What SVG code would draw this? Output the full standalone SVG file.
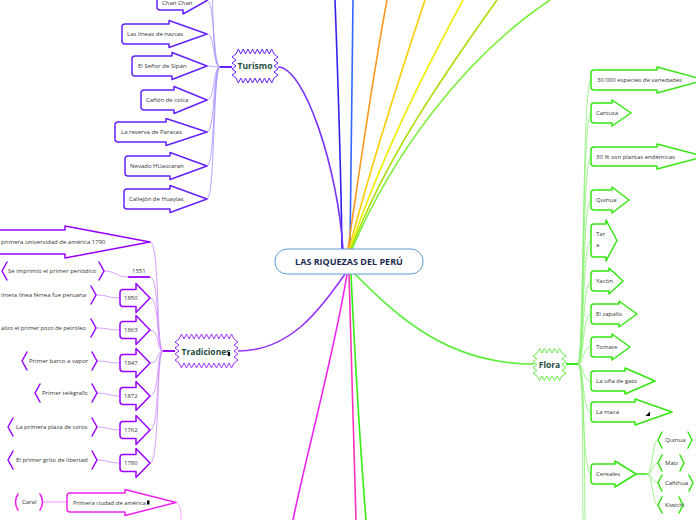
<svg xmlns="http://www.w3.org/2000/svg" width="696" height="520" viewBox="0 0 696 520">
<style>
.t{font-family:"Open Sans","Liberation Sans",sans-serif;font-size:6px;fill:#333}
.b{font-family:"Open Sans","Liberation Sans",sans-serif;font-size:8.5px;font-weight:bold;fill:#1e4d40}
.ttl{font-family:"Open Sans","Liberation Sans",sans-serif;font-size:9px;font-weight:bold;fill:#1a2a50}
.atu{fill:#fff;stroke:#6622ff;stroke-width:1.5;stroke-linejoin:round}
.atr{fill:#fff;stroke:#9900ff;stroke-width:1.5;stroke-linejoin:round}
.afl{fill:#fff;stroke:#33e611;stroke-width:1.5;stroke-linejoin:round}
.amg{fill:#fff;stroke:#ee22ee;stroke-width:1.5;stroke-linejoin:round}
.btr{fill:none;stroke:#9900ff;stroke-width:1.5;stroke-linejoin:round;stroke-linecap:round}
.bfl{fill:none;stroke:#33e611;stroke-width:1.5;stroke-linejoin:round;stroke-linecap:round}
.bmg{fill:none;stroke:#ee22ee;stroke-width:1.5;stroke-linecap:round}
.ctu{fill:none;stroke:#a58cff;stroke-width:0.8}
.ctr{fill:none;stroke:#cc88ff;stroke-width:0.8}
.cfl{fill:none;stroke:#88f070;stroke-width:0.8}
.main{fill:none;stroke-width:1.6}
</style>
<g id="connectors">
<path class="main" stroke="#3322ee" d="M342,249 C341,180 338,80 335,0"/>
<path class="main" stroke="#3366ff" d="M350,249 C351,150 353,60 353,0"/>
<path class="main" stroke="#ff9922" d="M348,249 C358,180 372,80 387,0"/>
<path class="main" stroke="#ffcc00" d="M349,249 C370,170 395,90 425,0"/>
<path class="main" stroke="#eeee00" d="M350,249 C380,160 420,80 463,0"/>
<path class="main" stroke="#aadd00" d="M351,249 C385,160 440,80 497,0"/>
<path class="main" stroke="#77ee33" d="M352,249 C390,160 460,60 550,0"/>
<path class="main" stroke="#7733ff" d="M343,249 C338,170 305,67 278,67"/>
<path class="main" stroke="#9933ff" d="M345,274 C320,310 290,351 238,351"/>
<path class="main" stroke="#ee22ee" d="M347,274 C335,350 305,460 293,520"/>
<path class="main" stroke="#ff33bb" d="M349,274 C352,380 355,470 356,520"/>
<path class="main" stroke="#33ee11" d="M351,274 C356,380 362,470 366,520"/>
<path class="main" stroke="#55ee33" d="M353,272 C400,320 450,364 534,364"/>
<path d="M220,67 H232" stroke="#6622ff" stroke-width="2"/>
<path class="ctu" d="M220,67 C213,67 213,20 212,-30"/>
<path class="ctu" d="M220,67 C213,67 215,0.5 207,0.5"/>
<path class="ctu" d="M220,67 C213,67 215,34 207,34"/>
<path class="ctu" d="M220,67 C213,67 215,66 207,66"/>
<path class="ctu" d="M220,67 C213,67 215,100 207,100"/>
<path class="ctu" d="M220,67 C213,67 215,132 207,132"/>
<path class="ctu" d="M220,67 C213,67 215,166 207,166"/>
<path class="ctu" d="M220,67 C213,67 215,199 207,199"/>
<path d="M163,351 H175" stroke="#9900ff" stroke-width="2"/>
<path class="ctr" d="M163,351 C156,351 160,242 150,242"/>
<path class="ctr" d="M163,351 C156,351 160,277 150,277"/>
<path class="ctr" d="M163,351 C156,351 160,298 150,298"/>
<path class="ctr" d="M163,351 C156,351 160,330 150,330"/>
<path class="ctr" d="M163,351 C156,351 160,363 150,363"/>
<path class="ctr" d="M163,351 C156,351 160,396 150,396"/>
<path class="ctr" d="M163,351 C156,351 160,430 150,430"/>
<path class="ctr" d="M163,351 C156,351 160,463 150,463"/>
<path d="M128,277 H150" stroke="#9900ff" stroke-width="1.8"/>
<path class="ctr" d="M104,271 C116,271 116,277 128,277"/>
<path class="ctr" d="M96,295 C108,295 108,298 120,298"/>
<path class="ctr" d="M96,328 C108,328 108,330 120,330"/>
<path class="ctr" d="M97,361 C108,361 108,363 120,363"/>
<path class="ctr" d="M97,393 C108,393 108,396 120,396"/>
<path class="ctr" d="M97,427 C108,427 108,430 120,430"/>
<path class="ctr" d="M97,460 C108,460 108,463 120,463"/>
<path d="M43,502 H67" stroke="#ff77ff" stroke-width="0.8"/>
<path d="M176,502 C181,506 181,512 181,520" fill="none" stroke="#ff88ff" stroke-width="0.8"/>
<path d="M566,364 H578" stroke="#33e611" stroke-width="2"/>
<path class="cfl" d="M578,364 C584,364 582,80 591,80"/>
<path class="cfl" d="M578,364 C584,364 582,113 591,113"/>
<path class="cfl" d="M578,364 C584,364 582,156.5 591,156.5"/>
<path class="cfl" d="M578,364 C584,364 582,200 591,200"/>
<path class="cfl" d="M578,364 C584,364 582,240.5 591,240.5"/>
<path class="cfl" d="M578,364 C584,364 582,281 591,281"/>
<path class="cfl" d="M578,364 C584,364 582,314 591,314"/>
<path class="cfl" d="M578,364 C584,364 582,347 591,347"/>
<path class="cfl" d="M578,364 C584,364 582,381 591,381"/>
<path class="cfl" d="M578,364 C584,364 582,412 591,412"/>
<path class="cfl" d="M578,364 C584,364 582,474 591,474"/>
<path class="cfl" d="M578,364 C584,364 582,450 583,520"/>
<path class="cfl" d="M578,364 C585,364 584,450 585,520"/>
<path d="M636,474 H647" stroke="#33e611" stroke-width="1.5"/>
<path class="cfl" d="M647,474 C653,474 652,440 658,440"/>
<path class="cfl" d="M647,474 C653,474 652,463 658,463"/>
<path class="cfl" d="M647,474 C653,474 652,483 658,483"/>
<path class="cfl" d="M647,474 C653,474 652,505 658,505"/>
</g>
<g id="center">
<rect x="275" y="249" width="148" height="25" rx="12" fill="#fff" stroke="#5b9bd5" stroke-width="1"/>
<text class="ttl" x="349" y="265" text-anchor="middle">LAS RIQUEZAS DEL PERÚ</text>
</g>
<g id="turismo">
<path fill="#fff" stroke="#6622ff" stroke-width="1" d="M236,54 l2.375,-5 l2.375,5 l2.375,-5 l2.375,5 l2.375,-5 l2.375,5 l2.375,-5 l2.375,5 l2.375,-5 l2.375,5 l2.375,-5 l2.375,5 l2.375,-5 l2.375,5 l2.375,-5 l2.375,5 l4,3 l-4,3 l4,3 l-4,3 l4,3 l-4,3 l4,3 l-4,3 l-2.375,5 l-2.375,-5 l-2.375,5 l-2.375,-5 l-2.375,5 l-2.375,-5 l-2.375,5 l-2.375,-5 l-2.375,5 l-2.375,-5 l-2.375,5 l-2.375,-5 l-2.375,5 l-2.375,-5 l-2.375,5 l-2.375,-5 l-4,-3 l4,-3 l-4,-3 l4,-3 l-4,-3 l4,-3 l-4,-3 l4,-3 Z"/>
<text class="b" x="255" y="69" text-anchor="middle">Turismo</text>
</g>
<g id="chanchan"><path class="atu" d="M160,-9 H183 V-13 L207,0.5 L183,14 V10 H160 Q157,10 157,7 V-6 Q157,-9 160,-9 Z"/><text class="t" x="162" y="5">Chan Chan</text></g>
<g id="nazcas"><path class="atu" d="M125,24 H169 V20.5 L207,34 L169,47.5 V44 H125 Q122,44 122,41 V27 Q122,24 125,24 Z"/><text class="t" x="127" y="36">Las líneas de nazcas</text></g>
<g id="sipan"><path class="atu" d="M135,56 H172 V52.5 L207,66 L172,79.5 V76 H135 Q132,76 132,73 V59 Q132,56 135,56 Z"/><text class="t" x="138" y="68">El Señor de Sipán</text></g>
<g id="colca"><path class="atu" d="M144,90 H174 V86.5 L207,100 L174,113.5 V110 H144 Q141,110 141,107 V93 Q141,90 144,90 Z"/><text class="t" x="146" y="102">Cañón de colca</text></g>
<g id="paracas"><path class="atu" d="M118,122 H166 V118.5 L207,132 L166,145.5 V142 H118 Q115,142 115,139 V125 Q115,122 118,122 Z"/><text class="t" x="121" y="134">La reserva de Paracas</text></g>
<g id="huascaran"><path class="atu" d="M128,156 H170 V152.5 L207,166 L170,179.5 V176 H128 Q125,176 125,173 V159 Q125,156 128,156 Z"/><text class="t" x="130" y="168">Nevado HUascaran</text></g>
<g id="huaylas"><path class="atu" d="M127,189 H170 V185.5 L207,199 L170,212.5 V209 H127 Q124,209 124,206 V192 Q124,189 127,189 Z"/><text class="t" x="129" y="201">Callejón de Huaylas</text></g>
<g id="tradiciones">
<path fill="#fff" stroke="#9933ff" stroke-width="1" d="M179,339 l2.5,-5 l2.5,5 l2.5,-5 l2.5,5 l2.5,-5 l2.5,5 l2.5,-5 l2.5,5 l2.5,-5 l2.5,5 l2.5,-5 l2.5,5 l2.5,-5 l2.5,5 l2.5,-5 l2.5,5 l2.5,-5 l2.5,5 l2.5,-5 l2.5,5 l2.5,-5 l2.5,5 l4,3 l-4,3 l4,3 l-4,3 l4,3 l-4,3 l4,3 l-4,3 l-2.5,5 l-2.5,-5 l-2.5,5 l-2.5,-5 l-2.5,5 l-2.5,-5 l-2.5,5 l-2.5,-5 l-2.5,5 l-2.5,-5 l-2.5,5 l-2.5,-5 l-2.5,5 l-2.5,-5 l-2.5,5 l-2.5,-5 l-2.5,5 l-2.5,-5 l-2.5,5 l-2.5,-5 l-2.5,5 l-2.5,-5 l-4,-3 l4,-3 l-4,-3 l4,-3 l-4,-3 l4,-3 l-4,-3 l4,-3 Z"/>
<text class="b" x="206" y="355" text-anchor="middle">Tradiciones</text>
<rect x="228" y="352" width="2" height="4" fill="#000"/>
</g>
<g id="universidad"><path class="atr" d="M-7,230 H65 V226 L150,242 L65,258 V254 H-7 Q-10,254 -10,251 V233 Q-10,230 -7,230 Z"/><text class="t" x="1" y="244">primera universidad de américa 1790</text></g>
<g id="y1551"><text class="t" x="132" y="273">1551</text></g>
<g id="periodico"><path class="btr" d="M7,262 L2,271 L7,280"/><path class="btr" d="M99,262 L104,271 L99,280"/><text class="t" x="8" y="273">Se imprimió el primer periódico</text></g>
<g id="y1850"><path class="atr" d="M123,289.5 H136 V283.5 L150,298 L136,312.5 V306.5 H123 Q120,306.5 120,303.5 V292.5 Q120,289.5 123,289.5 Z"/><text class="t" x="124" y="300">1850</text></g>
<g id="ferrea"><path class="btr" d="M91,286 L96,295 L91,304"/><text class="t" x="1" y="297" textLength="85" lengthAdjust="spacingAndGlyphs">imera línea férrea fue peruana</text></g>
<g id="y1863"><path class="atr" d="M123,321.5 H136 V315.5 L150,330 L136,344.5 V338.5 H123 Q120,338.5 120,335.5 V324.5 Q120,321.5 123,321.5 Z"/><text class="t" x="124" y="332">1863</text></g>
<g id="petroleo"><path class="btr" d="M91,319 L96,328 L91,337"/><text class="t" x="1" y="330" textLength="85" lengthAdjust="spacingAndGlyphs">alizo el primer pozo de petróleo</text></g>
<g id="y1847"><path class="atr" d="M123,354.5 H136 V348.5 L150,363 L136,377.5 V371.5 H123 Q120,371.5 120,368.5 V357.5 Q120,354.5 123,354.5 Z"/><text class="t" x="124" y="365">1847</text></g>
<g id="vapor"><path class="btr" d="M27,352 L22,361 L27,370"/><path class="btr" d="M92,352 L97,361 L92,370"/><text class="t" x="29" y="363">Primer barco a vapor</text></g>
<g id="y1872"><path class="atr" d="M123,387.5 H136 V381.5 L150,396 L136,410.5 V404.5 H123 Q120,404.5 120,401.5 V390.5 Q120,387.5 123,387.5 Z"/><text class="t" x="124" y="398">1872</text></g>
<g id="telegrafo"><path class="btr" d="M40,384 L35,393 L40,402"/><path class="btr" d="M92,384 L97,393 L92,402"/><text class="t" x="42" y="395">Primer telégrafo</text></g>
<g id="y1762"><path class="atr" d="M123,421.5 H136 V415.5 L150,430 L136,444.5 V438.5 H123 Q120,438.5 120,435.5 V424.5 Q120,421.5 123,421.5 Z"/><text class="t" x="124" y="432">1762</text></g>
<g id="toros"><path class="btr" d="M13,418 L8,427 L13,436"/><path class="btr" d="M92,418 L97,427 L92,436"/><text class="t" x="16" y="429">La primera plaza de toros</text></g>
<g id="y1780"><path class="atr" d="M123,454.5 H136 V448.5 L150,463 L136,477.5 V471.5 H123 Q120,471.5 120,468.5 V457.5 Q120,454.5 123,454.5 Z"/><text class="t" x="124" y="465">1780</text></g>
<g id="libertad"><path class="btr" d="M13,451 L8,460 L13,469"/><path class="btr" d="M92,451 L97,460 L92,469"/><text class="t" x="16" y="462">El primer grito de libertad</text></g>
<g id="caral"><path class="bmg" d="M18,494 Q13,502 18,510"/><path class="bmg" d="M40,494 Q45,502 40,510"/><text class="t" x="22" y="504">Caral</text></g>
<g id="ciudad"><path class="amg" d="M70,493 H125 V489.5 L176,502.5 L125,515.5 V512 H70 Q67,512 67,509 V496 Q67,493 70,493 Z"/><text class="t" x="73" y="504.5" textLength="73" lengthAdjust="spacingAndGlyphs">Primera ciudad de américa</text><rect x="147" y="500.5" width="2.5" height="4" fill="#000"/></g>
<g id="flora">
<path fill="#fff" stroke="#66ee44" stroke-width="1" d="M537,353 l2.5,-4.5 l2.5,4.5 l2.5,-4.5 l2.5,4.5 l2.5,-4.5 l2.5,4.5 l2.5,-4.5 l2.5,4.5 l2.5,-4.5 l2.5,4.5 l4,2.875 l-4,2.875 l4,2.875 l-4,2.875 l4,2.875 l-4,2.875 l4,2.875 l-4,2.875 l-2.5,4.5 l-2.5,-4.5 l-2.5,4.5 l-2.5,-4.5 l-2.5,4.5 l-2.5,-4.5 l-2.5,4.5 l-2.5,-4.5 l-2.5,4.5 l-2.5,-4.5 l-4,-2.875 l4,-2.875 l-4,-2.875 l4,-2.875 l-4,-2.875 l4,-2.875 l-4,-2.875 l4,-2.875 Z"/>
<text class="b" x="549.5" y="367.5" text-anchor="middle">Flora</text>
</g>
<g id="especies"><path class="afl" d="M594,70 H657 V67 L705,80 L657,93 V90 H594 Q591,90 591,87 V73 Q591,70 594,70 Z"/><text class="t" x="597" y="82">30 000 especies de variedades</text></g>
<g id="cantuta"><path class="afl" d="M594,103 H612 V100 L631,113 L612,126 V123 H594 Q591,123 591,120 V106 Q591,103 594,103 Z"/><text class="t" x="596" y="115">Cantuta</text></g>
<g id="endemicas"><path class="afl" d="M594,147 H657 V144 L705,156.5 L657,169 V166 H594 Q591,166 591,163 V150 Q591,147 594,147 Z"/><text class="t" x="596" y="158.5">30 % son plantas endémicas</text></g>
<g id="quinua1"><path class="afl" d="M594,190 H612 V187 L629,200 L612,213 V210 H594 Q591,210 591,207 V193 Q591,190 594,190 Z"/><text class="t" x="596" y="202">Quinua</text></g>
<g id="tara"><path class="afl" d="M594,224 H606 V220 L617,240.5 L606,261 V257 H594 Q591,257 591,254 V227 Q591,224 594,224 Z"/><text class="t" x="596" y="236">Tar</text><text class="t" x="596" y="247">a</text></g>
<g id="yacon"><path class="afl" d="M594,271 H609 V268 L623,281 L609,294 V291 H594 Q591,291 591,288 V274 Q591,271 594,271 Z"/><text class="t" x="596" y="283">Yacón</text></g>
<g id="zapallo"><path class="afl" d="M594,304 H619 V301 L637,314 L619,327 V324 H594 Q591,324 591,321 V307 Q591,304 594,304 Z"/><text class="t" x="596" y="316">El zapallo</text></g>
<g id="tomate"><path class="afl" d="M594,337 H612 V334 L630,347 L612,360 V357 H594 Q591,357 591,354 V340 Q591,337 594,337 Z"/><text class="t" x="596" y="349">Tomate</text></g>
<g id="unagato"><path class="afl" d="M594,371 H625 V368 L655,381 L625,394 V391 H594 Q591,391 591,388 V374 Q591,371 594,371 Z"/><text class="t" x="596" y="383">La uña de gato</text></g>
<g id="maca"><path class="afl" d="M594,402 H635 V399 L672,412 L635,425 V422 H594 Q591,422 591,419 V405 Q591,402 594,402 Z"/><text class="t" x="596" y="414">La maca</text><polygon points="650,411.5 650,416 645.5,416" fill="#000"/></g>
<g id="cereales"><path class="afl" d="M594,464 H615 V461 L636,474 L615,487 V484 H594 Q591,484 591,481 V467 Q591,464 594,464 Z"/><text class="t" x="596" y="476">Cereales</text></g>
<g id="quinua2"><path class="bfl" d="M662,432 L658,440 L662,448"/><path class="bfl" d="M688,432 L692,440 L688,448"/><text class="t" x="665" y="442">Quinua</text></g>
<g id="maiz"><path class="bfl" d="M662,455 L658,463 L662,471"/><path class="bfl" d="M680,455 L684,463 L680,471"/><text class="t" x="665" y="465">Maiz</text></g>
<g id="canihua"><path class="bfl" d="M662,475 L658,483 L662,491"/><path class="bfl" d="M689,475 L693,483 L689,491"/><text class="t" x="665" y="485">Cañihua</text></g>
<g id="kiwichi"><path class="bfl" d="M662,497 L658,505 L662,513"/><path class="bfl" d="M679,497 L683,505 L679,513"/><text class="t" x="665" y="507">Kiwichi</text></g>
</svg>
